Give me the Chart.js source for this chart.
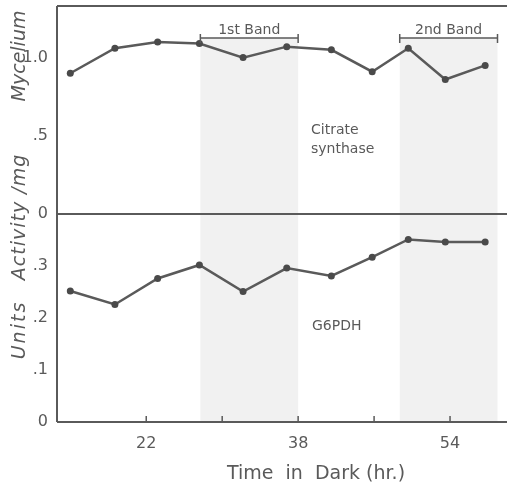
<!DOCTYPE html>
<html>
<head>
<meta charset="utf-8">
<script src="https://cdn.jsdelivr.net/npm/chart.js@4.4.1/dist/chart.umd.min.js"></script>
<style>
  html, body { margin: 0; padding: 0; background: #fff; }
  #wrap { width: 511px; height: 486px; }
</style>
</head>
<body>
<div id="wrap"><canvas id="chart"></canvas></div>
<script>
// values
const hours = [14, 18.7, 23.2, 27.6, 32.2, 36.8, 41.5, 45.8, 49.6, 53.5, 57.7];
const citrateSynthase = [0.90, 1.06, 1.10, 1.09, 1.00, 1.07, 1.05, 0.91, 1.06, 0.86, 0.95];
const g6pdh = [0.252, 0.226, 0.276, 0.302, 0.251, 0.296, 0.281, 0.317, 0.351, 0.346, 0.346];
const xTicks = [22, 30, 38, 46, 54];
const xLabelled = [22, 38, 54];
const topTicks = [0, 0.5, 1.0];
const bottomTicks = [0, 0.1, 0.2, 0.3];
const bandNames = ['1st Band', '2nd Band'];
const bandStart = [27.7, 48.7];
const bandEnd = [38.0, 59.0];

const INK = '#5a5a5a';
const FONT = '"DejaVu Sans", sans-serif';

function fmt(v) {
  if (v === 0) return '0';
  if (v >= 1) return v.toFixed(1);
  return v.toFixed(1).replace(/^0/, '');
}

const panelDecor = {
  id: 'panelDecor',
  beforeDatasetsDraw(chart) {
    const { ctx, chartArea: a, scales } = chart;
    const x = scales.x, yT = scales.yTop;
    const bracketY = yT.getPixelForValue(1.125);
    ctx.save();
    ctx.fillStyle = 'rgba(0,0,0,0.055)';
    bandStart.forEach((s, i) => {
      const x0 = x.getPixelForValue(s), x1 = x.getPixelForValue(bandEnd[i]);
      ctx.fillRect(x0, bracketY, x1 - x0, a.bottom - bracketY);
    });
    ctx.restore();
  },
  afterDraw(chart) {
    const { ctx, chartArea: a, scales } = chart;
    const x = scales.x, yT = scales.yTop;
    const mid = yT.getPixelForValue(0);
    ctx.save();
    ctx.strokeStyle = INK;
    ctx.lineWidth = 2;
    ctx.beginPath();
    ctx.moveTo(a.left, a.top); ctx.lineTo(a.right, a.top);
    ctx.moveTo(a.left, a.top); ctx.lineTo(a.left, a.bottom);
    ctx.moveTo(a.left, mid); ctx.lineTo(a.right, mid);
    ctx.moveTo(a.left, a.bottom); ctx.lineTo(a.right, a.bottom);
    ctx.stroke();
    // inward x ticks
    ctx.lineWidth = 1.5;
    ctx.beginPath();
    xTicks.forEach(v => {
      const px = x.getPixelForValue(v);
      ctx.moveTo(px, a.bottom); ctx.lineTo(px, a.bottom - 6);
    });
    ctx.stroke();
    // band brackets
    const by = yT.getPixelForValue(1.125);
    ctx.fillStyle = INK;
    ctx.font = '14px ' + FONT;
    ctx.textAlign = 'center';
    ctx.textBaseline = 'alphabetic';
    bandStart.forEach((s, i) => {
      const x0 = x.getPixelForValue(s), x1 = x.getPixelForValue(bandEnd[i]);
      ctx.beginPath();
      ctx.moveTo(x0, by); ctx.lineTo(x1, by);
      ctx.moveTo(x0, by - 4); ctx.lineTo(x0, by + 5);
      ctx.moveTo(x1, by - 4); ctx.lineTo(x1, by + 5);
      ctx.stroke();
      ctx.fillText(bandNames[i], (x0 + x1) / 2, by - 4);
    });
    // panel labels
    ctx.textAlign = 'left';
    ctx.textBaseline = 'middle';
    ctx.font = '14px ' + FONT;
    ctx.fillText('Citrate', 311, 130);
    ctx.fillText('synthase', 311, 149);
    ctx.fillText('G6PDH', 312, 326);
    // axis titles
    ctx.font = '19px ' + FONT;
    ctx.textAlign = 'center';
    ctx.fillText('Time  in  Dark (hr.)', 316, 474);
    ctx.translate(25, 0);
    ctx.rotate(-Math.PI / 2);
    ctx.font = 'italic 19px ' + FONT;
    ctx.textBaseline = 'alphabetic';
    ctx.letterSpacing = '2px';
    ctx.fillText('Units', -330, 0);
    ctx.letterSpacing = '1px';
    ctx.fillText('Activity /mg', -217, 0);
    ctx.letterSpacing = '0px';
    ctx.fillText('Mycelium', -56, 0);
    ctx.restore();
  }
};

const yCommon = {
  type: 'linear',
  position: 'left',
  stack: 'panels',
  stackWeight: 1,
  grid: { display: false, drawTicks: false },
  border: { display: false },
  afterFit(s) { s.width = 57; s.paddingTop = 0; s.paddingBottom = 0; }
};

new Chart(document.getElementById('chart'), {
  type: 'line',
  data: {
    datasets: [
      {
        label: 'G6PDH',
        data: hours.map((h, i) => ({ x: h, y: g6pdh[i] })),
        yAxisID: 'yBot'
      },
      {
        label: 'Citrate synthase',
        data: hours.map((h, i) => ({ x: h, y: citrateSynthase[i] })),
        yAxisID: 'yTop'
      }
    ].map(d => Object.assign(d, {
      borderColor: INK,
      backgroundColor: '#4a4a4a',
      borderWidth: 2.5,
      pointRadius: 3.5,
      pointBorderWidth: 0,
      tension: 0,
      clip: false
    }))
  },
  options: {
    responsive: true,
    maintainAspectRatio: false,
    animation: false,
    layout: { padding: { top: 6, right: 0, left: 0, bottom: 0 } },
    plugins: { legend: { display: false }, tooltip: { enabled: false } },
    scales: {
      x: {
        type: 'linear',
        min: 12.6,
        max: 60,
        grid: { display: false, drawTicks: false },
        border: { display: false },
        afterBuildTicks(s) { s.ticks = xTicks.map(v => ({ value: v })); },
        ticks: {
          autoSkip: false,
          maxRotation: 0,
          padding: 12,
          color: INK,
          font: { family: FONT, size: 16 },
          callback: v => xLabelled.includes(v) ? String(v) : ''
        },
        afterFit(s) { s.height = 64; s.paddingLeft = 0; s.paddingRight = 0; }
      },
      yBot: Object.assign({}, yCommon, {
        min: 0,
        max: 0.4,
        afterBuildTicks(s) { s.ticks = bottomTicks.map(v => ({ value: v })); },
        ticks: { padding: 9, color: INK, font: { family: FONT, size: 16 }, callback: v => fmt(v) }
      }),
      yTop: Object.assign({}, yCommon, {
        min: 0,
        max: 1.33,
        afterBuildTicks(s) { s.ticks = topTicks.map(v => ({ value: v })); },
        ticks: { padding: 9, color: INK, font: { family: FONT, size: 16 }, callback: v => fmt(v) }
      })
    }
  },
  plugins: [panelDecor]
});
</script>
</body>
</html>
